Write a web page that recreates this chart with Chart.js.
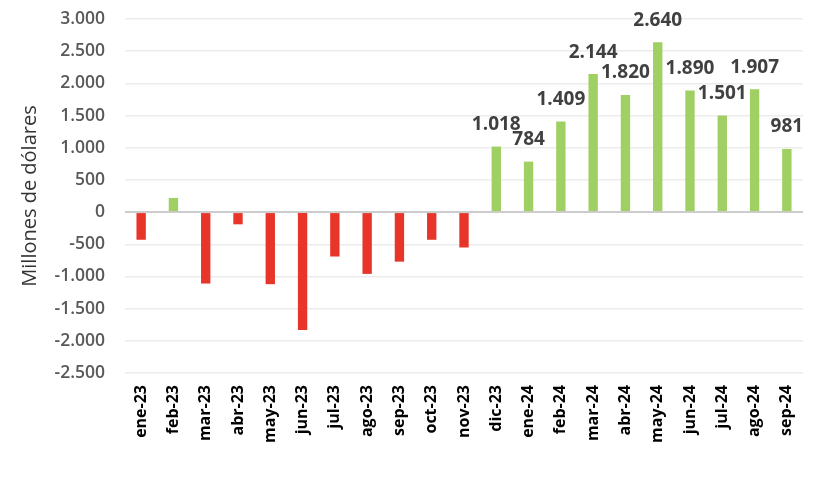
<!DOCTYPE html>
<html>
<head>
<meta charset="utf-8">
<script src="https://cdn.jsdelivr.net/npm/chart.js@4"></script>
<style>
  html,body{margin:0;padding:0;background:#fff;}
  #contenedor{width:830px;height:488px;}
</style>
</head>
<body>
<div id="contenedor"><canvas id="grafica"></canvas></div>
<script>
const MESES = ["ene-23","feb-23","mar-23","abr-23","may-23","jun-23","jul-23","ago-23","sep-23","oct-23","nov-23","dic-23",
               "ene-24","feb-24","mar-24","abr-24","may-24","jun-24","jul-24","ago-24","sep-24"];
const SALDO = [-430,220,-1110,-190,-1120,-1830,-690,-960,-770,-430,-550,1018,
               784,1409,2144,1820,2640,1890,1501,1907,981];
const TICKS_Y = [-2500,-2000,-1500,-1000,-500,0,500,1000,1500,2000,2500,3000];
const ETIQUETA_DESDE = 11; // solo se rotulan las barras desde dic-23

const ROJO = "#E8352A";
const VERDE = "#A0CF63";

const miles = v => {
    let s = Math.abs(v).toString().replace(/\B(?=(\d{3})+(?!\d))/g, ".");
    return (v < 0 ? "-" : "") + s;
};

const etiquetas = {
    id: "etiquetas",
    afterDatasetsDraw(chart){
        const ctx = chart.ctx;
        const meta = chart.getDatasetMeta(0);
        ctx.save();
        ctx.font = "bold 19px 'Open Sans'";
        ctx.fillStyle = "#404040";
        ctx.textAlign = "center";
        ctx.textBaseline = "middle";
        meta.data.forEach((barra,i)=>{
            if(i < ETIQUETA_DESDE) return;
            ctx.fillText(miles(SALDO[i]), barra.x, barra.y - 22);
        });
        ctx.restore();
    }
};

window.onload = ()=>{
const ctx = document.getElementById('grafica').getContext('2d');
const myChart = new Chart(ctx, {
    type: 'bar',
    data: {
        labels: MESES,
        datasets: [{
            data: SALDO,
            backgroundColor: SALDO.map(v => v < 0 ? ROJO : VERDE),
            barPercentage: 0.29,
            categoryPercentage: 1
        }]
    },
    plugins: [etiquetas],
    options: {
        responsive: true,
        maintainAspectRatio: false,
        animation: false,
        layout: { padding: { top: 19, right: 27, bottom: 40, left: 18 } },
        scales: {
            x: {
                grid: { display: false },
                border: { display: false },
                ticks: {
                    color: "#000",
                    minRotation: 90,
                    maxRotation: 90,
                    padding: 4,
                    font: { family: "'Open Sans'", size: 16, weight: "bold" }
                },
                afterFit: s => { s.height = 75; }
            },
            y: {
                min: -2500,
                max: 3000,
                afterBuildTicks: s => { s.ticks = TICKS_Y.map(v => ({ value: v })); },
                border: { display: false },
                grid: {
                    drawTicks: false,
                    color: c => c.tick && c.tick.value === 0 ? "#cccccc" : "#ececec",
                    lineWidth: c => c.tick && c.tick.value === 0 ? 2 : 1.5
                },
                ticks: {
                    color: "#595959",
                    padding: 20,
                    callback: v => miles(v),
                    font: { family: "'Open Sans'", size: 17.5, weight: "600" }
                },
                title: {
                    display: true,
                    text: "Millones de dólares",
                    color: "#333",
                    font: { family: "'Open Sans'", size: 20 },
                    padding: { top: 0, bottom: 0 }
                },
                afterFit: s => { s.width = 107; s.paddingTop = 0; s.paddingBottom = 0; }
            }
        },
        plugins: {
            legend: { display: false },
            tooltip: { enabled: false }
        }
    }
});
}
</script>
</body>
</html>
